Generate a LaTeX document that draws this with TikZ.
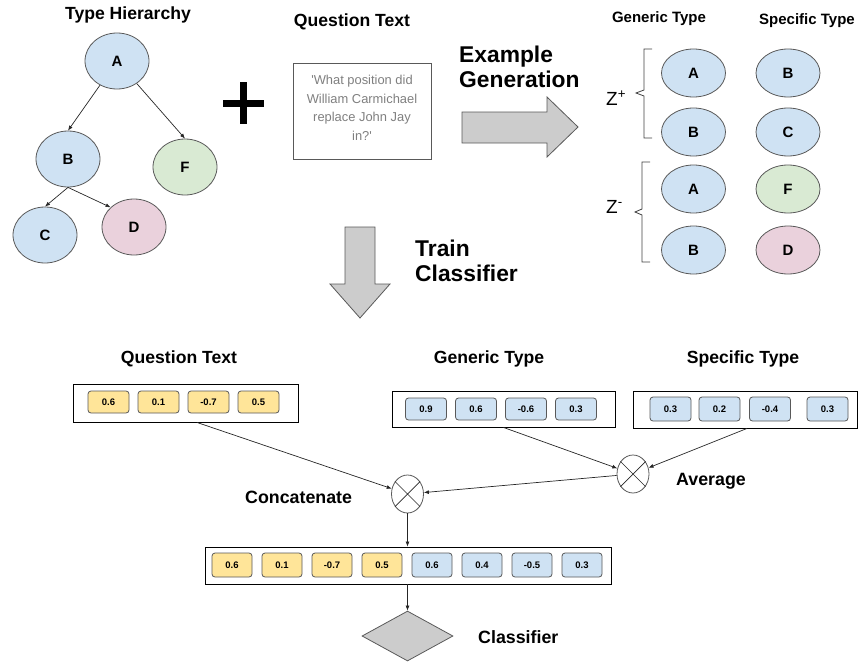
\documentclass[tikz,border=0pt]{standalone}
\usepackage{fontspec}
\setmainfont{Liberation Sans}
\usetikzlibrary{shapes.geometric,arrows.meta,calc}
\definecolor{cblue}{HTML}{CFE2F3}
\definecolor{cgreen}{HTML}{D9EAD3}
\definecolor{cpink}{HTML}{EAD1DC}
\definecolor{cyellow}{HTML}{FFE599}
\definecolor{cgray}{HTML}{CCCCCC}
\definecolor{edgec}{HTML}{595959}
\definecolor{qtext}{HTML}{7F7F7F}
\begin{document}
\begin{tikzpicture}[x=1pt,y=-1pt,
  typ/.style={ellipse, draw=edgec, line width=0.8pt, minimum width=64pt, minimum height=56pt, inner sep=0pt, font=\fontsize{15}{15}\selectfont\bfseries},
  typs/.style={typ, minimum height=48pt},
  ttl/.style={anchor=base, inner sep=0pt, font=\fontsize{17.6}{20}\selectfont\bfseries},
  ttls/.style={anchor=base, inner sep=0pt, font=\fontsize{15}{17}\selectfont\bfseries},
  big/.style={anchor=base west, inner sep=0pt, font=\fontsize{22.8}{25}\selectfont\bfseries},
  lbl/.style={anchor=base west, inner sep=0pt, font=\fontsize{17.8}{20}\selectfont\bfseries},
  zlbl/.style={anchor=base west, inner sep=0pt, font=\fontsize{19}{20}\selectfont},
  vec/.style={rectangle, draw=black, line width=0.9pt, fill=white, inner sep=0pt},
  cell/.style={rectangle, rounded corners=3pt, draw=edgec, line width=0.8pt, minimum width=41pt, minimum height=22pt, inner sep=0pt, font=\fontsize{9.5}{10}\selectfont\bfseries},
  op/.style={ellipse, draw=edgec, line width=0.8pt, minimum width=32pt, minimum height=38pt, inner sep=0pt, fill=white},
  con/.style={draw=black!85, line width=0.7pt},
  arr/.style={con, -{Latex[length=5pt,width=4pt]}},
  blk/.style={draw=edgec, line width=0.8pt, fill=cgray, line join=miter},
  brk/.style={draw=black!75, line width=0.8pt}
]
\useasboundingbox (0,0) rectangle (859,661);

% ---------- Type hierarchy ----------
\node[ttl] (tth) at (128,20) {Type Hierarchy};
\node[typ, fill=cblue] (A) at (117,61) {A};
\node[typ, fill=cblue] (B) at (68,159) {B};
\node[typ, fill=cgreen] (F) at (185,167) {F};
\node[typ, fill=cblue] (C) at (45,235) {C};
\node[typ, fill=cpink] (D) at (134,227) {D};
\draw[arr] (A) -- (B.north);
\draw[arr] (A) -- (F.north);
\draw[arr] (B.south) -- (C.north);
\draw[arr] (B.south) -- (D.140);

% plus sign
\draw[line width=7pt] (223,103) -- (264,103) (243.5,82) -- (243.5,124);

% ---------- Question text ----------
\node[ttl] (tq) at (352,27) {Question Text};
\node[rectangle, draw=edgec, line width=0.8pt, minimum width=138pt, minimum height=96pt, inner sep=0pt] (qbox) at (362,111) {};
\node[align=center, text=qtext, inner sep=0pt, font=\fontsize{12.9}{18.5}\selectfont] (qtxt) at (362,108)
  {\textquotesingle What position did\\William Carmichael\\replace John Jay\\in?\textquotesingle};

% Example generation arrow
\node[big] (eg1) at (459,63) {Example};
\node[big] (eg2) at (459,88) {Generation};
\draw[blk] (462,112) -- (547,112) -- (547,97) -- (578,127) -- (547,157) -- (547,143) -- (462,143) -- cycle;

% Train classifier arrow
\node[big] (tc1) at (415,256) {Train};
\node[big] (tc2) at (415,281) {Classifier};
\draw[blk] (345,227) -- (375,227) -- (375,284) -- (390,284) -- (360,318) -- (330,284) -- (345,284) -- cycle;

% ---------- Examples ----------
\node[ttls] (tg) at (659,23) {Generic Type};
\node[ttls] (ts) at (807,25) {Specific Type};
\node[typs, fill=cblue] (g1) at (693.5,73) {A};
\node[typs, fill=cblue] (g2) at (693.5,132) {B};
\node[typs, fill=cblue] (g3) at (693.5,189) {A};
\node[typs, fill=cblue] (g4) at (693.5,250) {B};
\node[typs, fill=cblue] (s1) at (788,73) {B};
\node[typs, fill=cblue] (s2) at (788,132) {C};
\node[typs, fill=cgreen] (s3) at (788,189) {F};
\node[typs, fill=cpink] (s4) at (788,250) {D};
\node[zlbl] (zp) at (606,105) {Z\textsuperscript{+}};
\node[zlbl] (zm) at (606,213) {Z\textsuperscript{-}};
\draw[brk] (652,49) -- (644,49) -- (644,90) -- (636,93) -- (644,96) -- (644,138) -- (652,138);
\draw[brk] (650,162) -- (642,162) -- (642,209) -- (635,212) -- (642,215) -- (642,262) -- (650,262);

% ---------- Lower part ----------
\node[ttl] (tq2) at (179,363) {Question Text};
\node[ttl] (tg2) at (489,363) {Generic Type};
\node[ttl] (ts2) at (743,363) {Specific Type};

\node[vec, minimum width=225pt, minimum height=38pt] (qvec) at (185.5,403) {};
\foreach \v [count=\i] in {0.6,0.1,-0.7,0.5}
  \node[cell, fill=cyellow] (qc\i) at ({108.5+50*(\i-1)},402) {\v};

\node[vec, minimum width=223pt, minimum height=36pt] (gvec) at (503.5,409) {};
\foreach \v [count=\i] in {0.9,0.6,-0.6,0.3}
  \node[cell, fill=cblue] (gc\i) at ({426+50*(\i-1)},409) {\v};

\node[vec, minimum width=224pt, minimum height=37pt] (svec) at (745,409.5) {};
\foreach \v/\x [count=\i] in {0.3/670.5,0.2/719.5,-0.4/770,0.3/827.5}
  \node[cell, fill=cblue, minimum height=24pt] (sc\i) at (\x,409) {\v};

\node[op] (avg) at (633,474) {};
\draw[con] (avg.45) -- (avg.225) (avg.135) -- (avg.-45);
\node[op] (cat) at (407.5,494) {};
\draw[con] (cat.45) -- (cat.225) (cat.135) -- (cat.-45);
\node[lbl] (lavg) at (676,485) {Average};
\node[lbl] (lcat) at (245,503) {Concatenate};

\draw[arr] ([xshift=11.5pt]qvec.south) -- (cat);
\draw[arr] (gvec.south) -- (avg);
\draw[arr] ([xshift=2pt]svec.south) -- (avg);
\draw[arr] (avg) -- (cat);

\node[vec, minimum width=406pt, minimum height=37pt] (cvec) at (408,565.5) {};
\foreach \v [count=\i] in {0.6,0.1,-0.7,0.5}
  \node[cell, fill=cyellow, minimum width=40pt, minimum height=24pt] (cc\i) at ({232+50*(\i-1)},565) {\v};
\foreach \v [count=\i] in {0.6,0.4,-0.5,0.3}
  \node[cell, fill=cblue, minimum width=40pt, minimum height=24pt] (cb\i) at ({432+50*(\i-1)},565) {\v};

\draw[arr] (cat.south) -- (cat.south |- cvec.north);

\node[diamond, draw=edgec, line width=0.8pt, fill=cgray, minimum width=91pt, minimum height=50pt, inner sep=0pt] (clf) at (407.5,636) {};
\draw[arr] (cvec.south -| clf.north) -- (clf.north);
\node[lbl] (lclf) at (478,643) {Classifier};
\end{tikzpicture}
\end{document}
